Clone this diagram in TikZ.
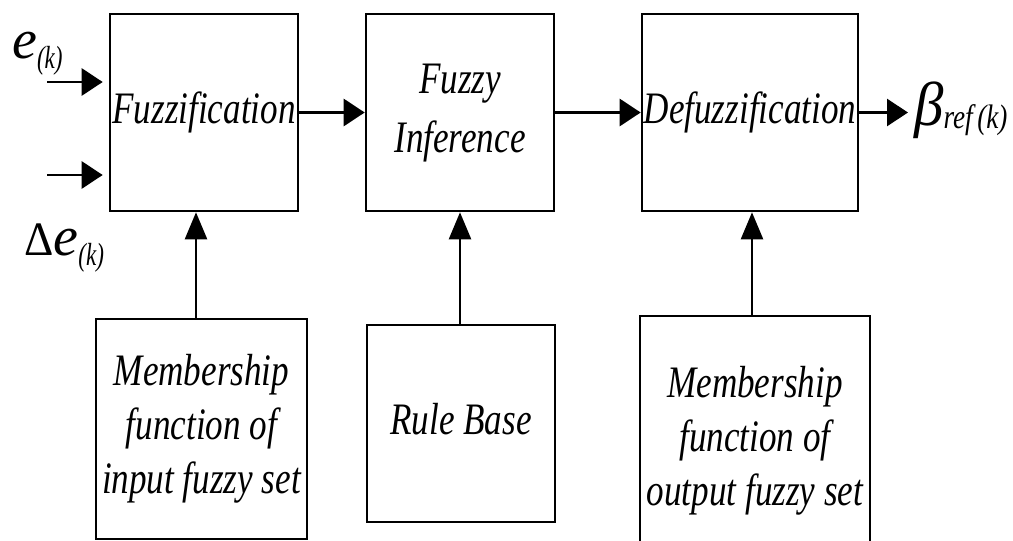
\documentclass[tikz,border=0pt]{standalone}
\usepackage{fontspec}
\setmainfont{Liberation Serif}
\usepackage{graphicx}
\usetikzlibrary{arrows.meta}
\newcommand{\sq}[1]{\scalebox{0.78}[1]{\begin{tabular}{@{}c@{}}#1\end{tabular}}}
\newcommand{\subk}[1]{\raisebox{-10pt}{\scalebox{0.72}[1]{\fontsize{32}{32}\selectfont #1}}}
\begin{document}
\begin{tikzpicture}[x=1pt,y=-1pt,
  blk/.style={draw,line width=2.6pt,inner sep=0pt,align=center,
    font={\itshape\fontsize{45}{54}\selectfont}},
  harr/.style={line width=2.8pt,-{Triangle[length=21pt,width=27pt]}},
  varr/.style={line width=2.4pt,-{Triangle[length=27pt,width=22pt]}},
  lbl/.style={inner sep=0pt,font={\itshape}}]
\useasboundingbox (0,0) rectangle (1013,541);
% top row
\node[blk,minimum width=188pt,minimum height=197pt] (fz) at (204,112.5) {\sq{Fuzzification}};
\node[blk,minimum width=188pt,minimum height=197pt] (fi) at (460,112.5) {\sq{Fuzzy\\[5pt]Inference}};
\node[blk,minimum width=216pt,minimum height=197pt] (dz) at (750,112.5) {\sq{Defuzzification}};
% bottom row
\node[blk,minimum width=211pt,minimum height=220pt] (mi) at (201.5,429) {\sq{Membership\\function of\\input fuzzy set}};
\node[blk,minimum width=188pt,minimum height=197pt] (rb) at (461,423.5) {\raisebox{-5pt}{\sq{Rule Base}}};
\node[blk,minimum width=230pt,minimum height=250pt] (mo) at (755,441) {\sq{Membership\\function of\\output fuzzy set}};
% labels
\node[lbl,anchor=base west] (ek) at (12,58) {{\fontsize{56}{56}\selectfont e}\subk{(k)}};
\node[lbl,anchor=base west] (dek) at (24,255) {\scalebox{0.95}[1]{\fontsize{48}{48}\selectfont\upshape Δ}{\fontsize{56}{56}\selectfont e}\subk{(k)}};
\node[lbl,anchor=base west] (beta) at (914,125) {\scalebox{0.95}[1]{\fontsize{62}{62}\selectfont β}\raisebox{-3pt}{\scalebox{0.8}[1]{\fontsize{34}{34}\selectfont ref\,(k)}}};
% inputs
\coordinate (in1) at (47,82);
\coordinate (in2) at (47,175);
\draw[harr,shorten >=6pt] (in1) -- (in1 -| fz.west);
\draw[harr,shorten >=6pt] (in2) -- (in2 -| fz.west);
% chain
\draw[harr] (fz.east) -- (fi.west);
\draw[harr] (fi.east) -- (dz.west);
\draw[harr] (dz.east) -- ([xshift=-6pt]beta.west |- dz.east);
% from bottom boxes
\draw[varr] ([xshift=-5.5pt]mi.north) -- ([xshift=-5.5pt]mi.north |- fz.south);
\draw[varr] ([xshift=-1pt]rb.north) -- ([xshift=-1pt]rb.north |- fi.south);
\draw[varr] ([xshift=-3pt]mo.north) -- ([xshift=-3pt]mo.north |- dz.south);
\end{tikzpicture}
\end{document}
